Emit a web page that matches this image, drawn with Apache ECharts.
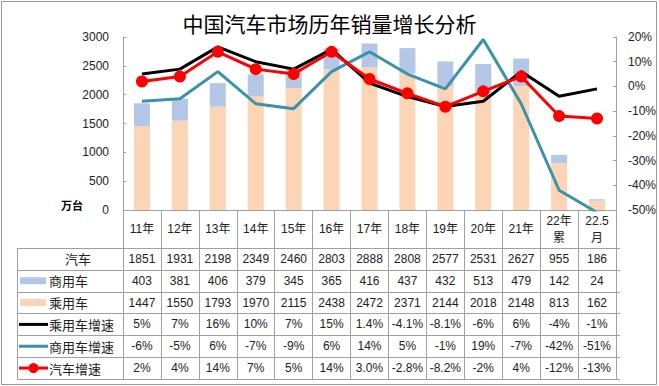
<!DOCTYPE html>
<html><head><meta charset="utf-8">
<script src="https://cdn.jsdelivr.net/npm/echarts@6/dist/echarts.min.js"></script>
<style>html,body{margin:0;padding:0;background:#fff}#c{width:659px;height:386px}</style>
</head><body><div id="c"></div>
<script>
// ---- data ----
const categories = ['11年','12年','13年','14年','15年','16年','17年','18年','19年','20年','21年','22年\n累','22.5\n月'];
const totalSales = [1851,1931,2198,2349,2460,2803,2888,2808,2577,2531,2627,955,186];
const commercialSales = [403,381,406,379,345,365,416,437,432,513,479,142,24];
const passengerSales = [1447,1550,1793,1970,2115,2438,2472,2371,2144,2018,2148,813,162];
const passengerGrowth = ['5','7','16','10','7','15','1.4','-4.1','-8.1','-6','6','-4','-1'];
const commercialGrowth = ['-6','-5','6','-7','-9','6','14','5','-1','19','-7','-42','-51'];
const totalGrowth = ['2','4','14','7','5','14','3.0','-2.8','-8.2','-2','4','-12','-13'];
const leftTicks = {min:0, max:3000, interval:500};
const rightTicks = {min:-50, max:20, interval:10};

const C_BLUE = '#B4C7E7', C_PEACH = '#FBD5B5', C_TEAL = '#3A93A8', C_RED = '#FF0000', C_BLACK = '#000000';
const GRID = {left:123, right:39, top:37, bottom:176};
const LINE_C = '#A0A0A0';
const NUMFONT = '"Liberation Sans","Noto Sans CJK SC",sans-serif';

const chart = echarts.init(document.getElementById('c'), null, {renderer:'svg'});
chart.setOption({
  animation:false,
  title:{text:'中国汽车市场历年销量增长分析', left:'center', top:7,
    textStyle:{fontSize:21, fontWeight:'normal', color:'#000', fontFamily:'"Noto Sans CJK SC",sans-serif'}},
  grid:GRID,
  xAxis:{type:'category', data:categories,
    axisLine:{lineStyle:{color:LINE_C}},
    axisTick:{show:true, length:169, lineStyle:{color:LINE_C}},
    axisLabel:{margin:19, verticalAlign:'middle', fontSize:12, lineHeight:17, color:'#222', fontFamily:NUMFONT, interval:0}},
  yAxis:[
    {type:'value', min:leftTicks.min, max:leftTicks.max, interval:leftTicks.interval,
     splitLine:{show:false}, axisLine:{show:true, lineStyle:{color:LINE_C}},
     axisTick:{show:true, inside:true, length:3, lineStyle:{color:LINE_C}},
     axisLabel:{margin:14, fontSize:12, color:'#222', fontFamily:NUMFONT, formatter:v=>String(v)}},
    {type:'value', min:rightTicks.min, max:rightTicks.max, interval:rightTicks.interval,
     splitLine:{show:false}, axisLine:{show:true, lineStyle:{color:LINE_C}},
     axisTick:{show:true, inside:true, length:3, lineStyle:{color:LINE_C}},
     axisLabel:{margin:12, fontSize:12, color:'#222', fontFamily:NUMFONT, formatter:'{value}%'}}
  ],
  series:[
    {name:'乘用车', type:'bar', stack:'s', data:passengerSales, barWidth:16, itemStyle:{color:C_PEACH}},
    {name:'商用车', type:'bar', stack:'s', data:commercialSales, barWidth:16, itemStyle:{color:C_BLUE}},
    {name:'商用车增速', type:'line', yAxisIndex:1, data:commercialGrowth.map(parseFloat), symbol:'none', lineStyle:{color:C_TEAL, width:3}, itemStyle:{color:C_TEAL}},
    {name:'乘用车增速', type:'line', yAxisIndex:1, data:passengerGrowth.map(parseFloat), symbol:'none', lineStyle:{color:C_BLACK, width:3}, itemStyle:{color:C_BLACK}},
    {name:'汽车增速', type:'line', yAxisIndex:1, data:totalGrowth.map(parseFloat), symbol:'circle', symbolSize:12, lineStyle:{color:C_RED, width:3}, itemStyle:{color:C_RED}}
  ]
});

// ---- data table built from the axis scale ----
const rows = [
  {label:'汽车', values:totalSales.map(String), sym:null},
  {label:'商用车', values:commercialSales.map(String), sym:'rect', color:C_BLUE},
  {label:'乘用车', values:passengerSales.map(String), sym:'rect', color:C_PEACH},
  {label:'乘用车增速', values:passengerGrowth.map(v=>v+'%'), sym:'line', color:C_BLACK},
  {label:'商用车增速', values:commercialGrowth.map(v=>v+'%'), sym:'line', color:C_TEAL},
  {label:'汽车增速', values:totalGrowth.map(v=>v+'%'), sym:'dot', color:C_RED}
];
const W = chart.getWidth(), H = chart.getHeight();
const gx0 = GRID.left, gx1 = W - GRID.right, gy = H - GRID.bottom;
const tableLeft = 17, rowTop = 248, rowH = 21.83;
const g = [];
const hl = (y,xa,xb)=>g.push({type:'line', shape:{x1:xa,y1:y,x2:xb,y2:y}, style:{stroke:LINE_C, lineWidth:1}, silent:true});
hl(Math.round(rowTop)+0.5, tableLeft, gx1);
rows.forEach((r,i)=>{
  const yTop = rowTop + i*rowH, yMid = yTop + rowH/2;
  hl(Math.round(yTop+rowH)+0.5, tableLeft, gx1);
  r.values.forEach((v,j)=>{
    const cx = chart.convertToPixel({xAxisIndex:0}, j);
    g.push({type:'text', x:cx, y:yMid, style:{text:v, fill:'#222', font:'12px '+NUMFONT, textAlign:'center', textVerticalAlign:'middle'}, silent:true});
  });
  if (r.sym === null) {
    g.push({type:'text', x:(tableLeft+gx0)/2 + 8, y:yMid, style:{text:r.label, fill:'#222', font:'13px "Noto Sans CJK SC",sans-serif', textAlign:'center', textVerticalAlign:'middle'}, silent:true});
  } else {
    g.push({type:'text', x:49, y:yMid, style:{text:r.label, fill:'#222', font:'13px "Noto Sans CJK SC",sans-serif', textAlign:'left', textVerticalAlign:'middle'}, silent:true});
    if (r.sym === 'rect') g.push({type:'rect', shape:{x:20, y:yMid-3.5, width:26, height:7}, style:{fill:r.color}, silent:true});
    else {
      g.push({type:'line', shape:{x1:19, y1:yMid, x2:48, y2:yMid}, style:{stroke:r.color, lineWidth:3}, silent:true});
      if (r.sym === 'dot') g.push({type:'circle', shape:{cx:33.5, cy:yMid, r:5}, style:{fill:r.color}, silent:true});
    }
  }
});
g.push({type:'line', shape:{x1:tableLeft+0.5, y1:rowTop, x2:tableLeft+0.5, y2:rowTop+rows.length*rowH}, style:{stroke:LINE_C, lineWidth:1}, silent:true});
g.push({type:'text', x:72, y:gy-5, style:{text:'万台', fill:'#000', font:'bold 11px "Noto Sans CJK SC",sans-serif', textAlign:'center', textVerticalAlign:'middle'}, silent:true});
g.push({type:'rect', shape:{x:1.5, y:1.5, width:W-4, height:H-3}, style:{fill:'none', stroke:'#999', lineWidth:1}, silent:true, z:-1});
chart.setOption({graphic:g});
</script></body></html>
